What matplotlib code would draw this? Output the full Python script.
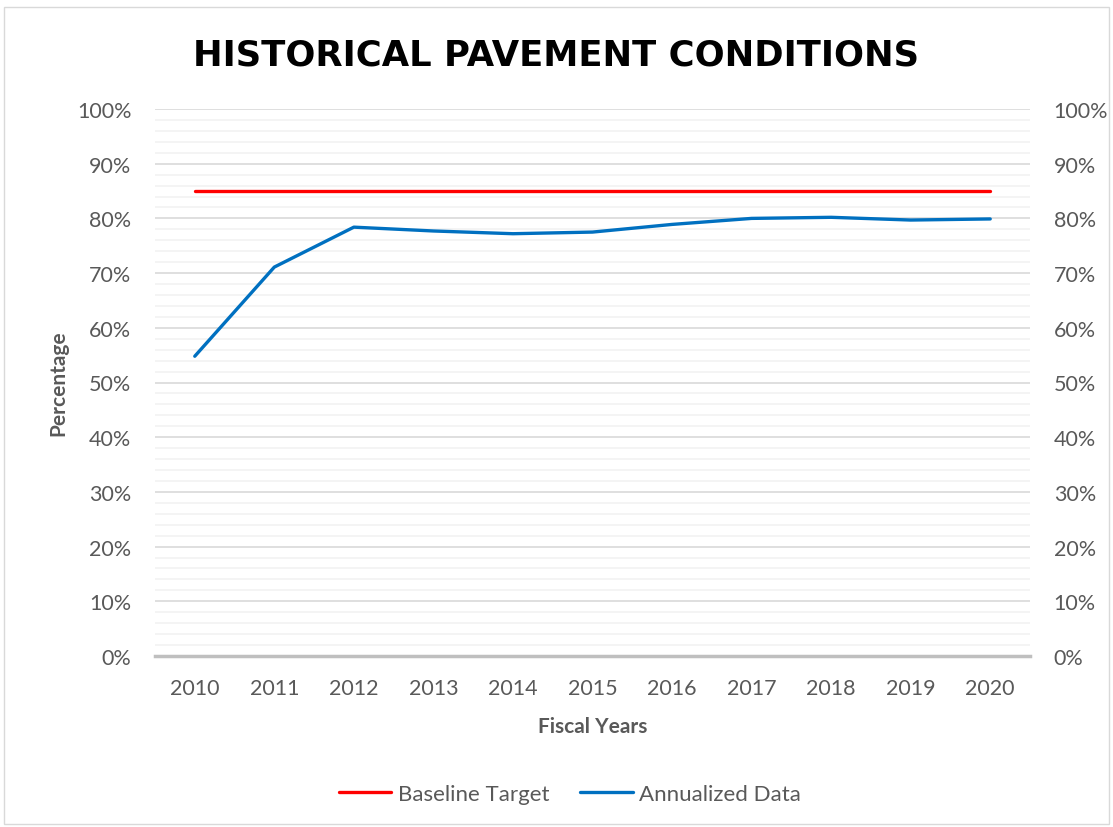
import matplotlib.pyplot as plt
from matplotlib.ticker import MultipleLocator, FuncFormatter
import numpy as np

years = ['2010', '2011', '2012', '2013', '2014', '2015', '2016', '2017', '2018', '2019', '2020']
baseline = [85, 85, 85, 85, 85, 85, 85, 85, 85, 85, 85]
annualized = [54.8, 71.1, 78.4, 77.7, 77.2, 77.5, 78.9, 80.0, 80.2, 79.7, 79.9]

plt.rcParams['font.family'] = ['Lato', 'DejaVu Sans']
grey = '#595959'

fig = plt.figure(figsize=(11.13, 8.28), dpi=100)
ax = fig.add_axes([155/1113, 1 - 657/828, 875/1113, 547/828])

x = np.arange(len(years))
ax.plot(x, baseline, color='#ff0000', lw=2.4, solid_capstyle='round', label='Baseline Target', zorder=3)
ax.plot(x, annualized, color='#0070c0', lw=2.4, solid_capstyle='round', label='Annualized Data', zorder=3)

ax.set_xlim(-0.5, len(years) - 0.5)
ax.set_ylim(0, 100)
ax.set_xticks(x)
ax.set_xticklabels(years)
ax.yaxis.set_major_locator(MultipleLocator(10))
ax.yaxis.set_minor_locator(MultipleLocator(2))
pct = FuncFormatter(lambda v, p: f'{v:.0f}%')
ax.yaxis.set_major_formatter(pct)

ax.grid(axis='y', which='major', color='#d9d9d9', lw=1.2, zorder=0)
ax.grid(axis='y', which='minor', color='#f2f2f2', lw=1.2, zorder=0)
for s in ['top', 'left', 'right']:
    ax.spines[s].set_visible(False)
ax.spines['bottom'].set_color('#bfbfbf')
ax.spines['bottom'].set_linewidth(2.5)
ax.tick_params(axis='both', which='both', length=0, labelsize=15.5, colors=grey)
ax.tick_params(axis='x', pad=16)
ax.tick_params(axis='y', pad=17)

ax2 = ax.twinx()
ax2.set_ylim(ax.get_ylim())
ax2.yaxis.set_major_locator(MultipleLocator(10))
ax2.yaxis.set_major_formatter(pct)
for s in ['top', 'left', 'right', 'bottom']:
    ax2.spines[s].set_visible(False)
ax2.tick_params(axis='y', length=0, labelsize=15.5, colors=grey, pad=17)

ax.set_ylabel('Percentage', fontsize=15, fontweight='bold', color=grey)
ax.set_xlabel('Fiscal Years', fontsize=15, fontweight='bold', color=grey)
ax.yaxis.set_label_coords((68 - 155) / 875, 0.5)
ax.xaxis.set_label_coords(0.5, (657 - 717) / 547)

fig.text(0.5, 1 - 55/828, 'HISTORICAL PAVEMENT CONDITIONS', ha='center', va='center',
         fontsize=25.5, fontweight='bold', color='black', family='DejaVu Sans')

fig.legend(loc='center', bbox_to_anchor=(570/1113, 1 - 795/828), ncol=2, frameon=False,
           fontsize=16, labelcolor=grey, handlelength=2.35, handletextpad=0.3, columnspacing=1.4)

fig.patches.append(plt.Rectangle((4/1113, 3/828), 1105/1113, 817/828, transform=fig.transFigure,
                                 fill=False, edgecolor='#d9d9d9', lw=1))

fig.savefig('out.png', dpi=100)
